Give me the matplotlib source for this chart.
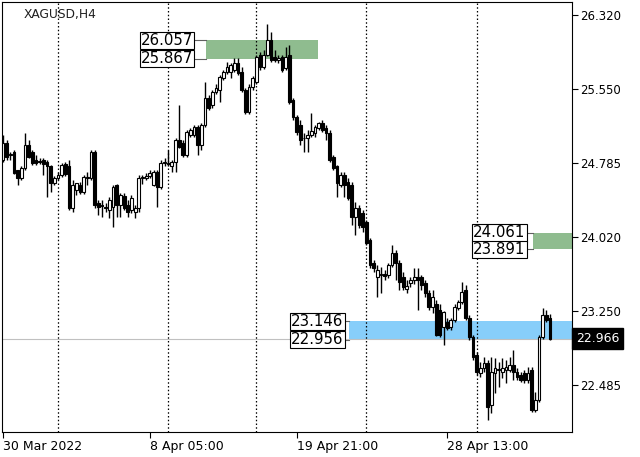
import matplotlib
matplotlib.use('Agg')
import matplotlib.pyplot as plt
from matplotlib.patches import Rectangle
import numpy as np

# XAGUSD H4 candles (prices)
opens = [24.82, 24.99, 24.87, 24.90, 24.71, 24.63, 24.73, 24.97, 24.90, 24.82,
         24.81, 24.82, 24.80, 24.75, 24.58, 24.63, 24.66, 24.78, 24.76, 24.32,
         24.51, 24.56, 24.49, 24.63, 24.63, 24.90, 24.37, 24.35, 24.33, 24.30,
         24.33, 24.56, 24.35, 24.44, 24.35, 24.30, 24.28, 24.32, 24.63, 24.63,
         24.65, 24.56, 24.69, 24.54, 24.79, 24.79, 24.75, 24.80, 25.02, 24.99,
         24.87, 25.08, 25.08, 25.16, 24.97, 25.18, 25.46, 25.39, 25.52, 25.54,
         25.67, 25.73, 25.73, 25.75, 25.82, 25.73, 25.54, 25.31, 25.57, 25.63,
         25.91, 25.78, 25.91, 26.06, 25.88, 25.85, 25.88, 25.77, 25.91, 25.44,
         25.26, 25.18, 25.05, 25.04, 25.08, 25.10, 25.15, 25.20, 25.15, 25.10,
         24.85, 24.75, 24.56, 24.66, 24.59, 24.56, 24.23, 24.32, 24.27, 24.17,
         23.99, 23.75, 23.61, 23.63, 23.64, 23.63, 23.73, 23.85, 23.75, 23.61,
         23.48, 23.54, 23.57, 23.60, 23.60, 23.54, 23.44, 23.29, 23.32, 23.26,
         23.09, 23.14, 23.09, 23.16, 23.28, 23.35, 23.47, 23.18, 22.98, 22.80,
         22.61, 22.66, 22.71, 22.28, 22.61, 22.64, 22.62, 22.64, 22.64, 22.69,
         22.62, 22.59, 22.61, 22.54, 22.64, 22.23, 22.33, 22.98, 23.21, 23.18]
highs = [25.08, 25.02, 24.90, 24.92, 24.71, 24.76, 25.10, 25.02, 24.92, 24.87,
         24.84, 24.84, 24.82, 24.77, 24.65, 24.69, 24.79, 24.80, 24.82, 24.61,
         24.58, 24.59, 24.66, 24.69, 24.92, 24.92, 24.40, 24.40, 24.37, 24.43,
         24.56, 24.57, 24.48, 24.48, 24.40, 24.45, 24.35, 24.66, 24.66, 24.68,
         24.71, 24.71, 24.71, 24.82, 24.84, 24.92, 24.82, 25.05, 25.39, 25.02,
         25.13, 25.15, 25.18, 25.18, 25.20, 25.63, 25.49, 25.54, 25.60, 25.70,
         25.75, 25.83, 25.82, 25.87, 25.87, 25.78, 25.56, 25.60, 25.69, 25.91,
         25.94, 25.96, 26.23, 26.14, 25.96, 25.91, 25.91, 25.99, 26.01, 25.46,
         25.28, 25.23, 25.10, 25.13, 25.30, 25.18, 25.21, 25.23, 25.18, 25.13,
         24.87, 24.77, 24.69, 24.69, 24.63, 24.59, 24.38, 24.35, 24.30, 24.20,
         24.01, 23.78, 23.73, 23.71, 23.68, 23.75, 23.94, 23.88, 23.78, 23.66,
         23.57, 23.60, 23.70, 23.70, 23.63, 23.57, 23.47, 23.47, 23.37, 23.32,
         23.25, 23.18, 23.18, 23.32, 23.37, 23.55, 23.52, 23.21, 23.00, 22.83,
         22.72, 22.78, 22.75, 22.78, 22.77, 22.72, 22.77, 22.75, 22.78, 22.85,
         22.66, 22.62, 22.64, 22.67, 22.67, 22.41, 23.00, 23.28, 23.26, 23.22]
lows = [24.80, 24.82, 24.82, 24.67, 24.56, 24.61, 24.71, 24.84, 24.77, 24.77,
        24.78, 24.66, 24.43, 24.49, 24.56, 24.61, 24.64, 24.65, 24.30, 24.28,
        24.45, 24.46, 24.46, 24.56, 24.61, 24.32, 24.25, 24.23, 24.28, 24.22,
        24.12, 24.23, 24.23, 24.30, 24.23, 24.27, 24.22, 24.28, 24.57, 24.61,
        24.63, 24.55, 24.33, 24.52, 24.75, 24.75, 24.69, 24.69, 24.94, 24.85,
        24.85, 25.06, 25.06, 24.87, 24.92, 25.16, 25.34, 25.36, 25.50, 25.42,
        25.65, 25.71, 25.67, 25.73, 25.70, 25.52, 25.29, 25.29, 25.54, 25.60,
        25.75, 25.76, 25.89, 25.83, 25.83, 25.82, 25.73, 25.75, 25.40, 25.23,
        25.08, 24.97, 24.90, 24.90, 25.06, 25.06, 25.13, 25.11, 25.02, 24.80,
        24.71, 24.43, 24.54, 24.43, 24.40, 24.14, 24.04, 24.11, 24.07, 23.94,
        23.70, 23.66, 23.40, 23.44, 23.57, 23.59, 23.71, 23.57, 23.47, 23.47,
        23.44, 23.50, 23.53, 23.26, 23.47, 23.40, 23.26, 23.23, 22.99, 22.98,
        22.90, 23.06, 23.06, 23.14, 23.26, 23.33, 23.16, 22.95, 22.75, 22.59,
        22.57, 22.62, 22.12, 22.20, 22.40, 22.47, 22.56, 22.51, 22.62, 22.54,
        22.54, 22.52, 22.51, 22.51, 22.21, 22.21, 22.31, 22.96, 23.14, 22.95]
closes = [24.99, 24.85, 24.88, 24.68, 24.63, 24.73, 24.97, 24.85, 24.79, 24.79,
          24.80, 24.78, 24.75, 24.58, 24.63, 24.66, 24.77, 24.67, 24.32, 24.56,
          24.58, 24.49, 24.64, 24.64, 24.90, 24.35, 24.33, 24.34, 24.32, 24.40,
          24.54, 24.35, 24.45, 24.32, 24.28, 24.42, 24.32, 24.63, 24.64, 24.65,
          24.68, 24.69, 24.54, 24.79, 24.80, 24.78, 24.80, 25.02, 24.95, 24.87,
          25.11, 25.13, 25.16, 24.97, 25.18, 25.46, 25.36, 25.52, 25.56, 25.68,
          25.73, 25.78, 25.80, 25.82, 25.72, 25.54, 25.31, 25.57, 25.67, 25.88,
          25.78, 25.91, 26.06, 25.85, 25.85, 25.87, 25.75, 25.88, 25.42, 25.26,
          25.11, 25.02, 25.04, 25.08, 25.12, 25.16, 25.20, 25.13, 25.10, 24.82,
          24.73, 24.58, 24.66, 24.56, 24.42, 24.23, 24.32, 24.14, 24.12, 23.96,
          23.73, 23.70, 23.68, 23.64, 23.62, 23.73, 23.85, 23.75, 23.55, 23.50,
          23.51, 23.57, 23.61, 23.57, 23.52, 23.44, 23.29, 23.40, 23.00, 23.00,
          23.24, 23.08, 23.16, 23.29, 23.35, 23.45, 23.18, 22.98, 22.78, 22.62,
          22.66, 22.71, 22.26, 22.62, 22.66, 22.65, 22.66, 22.67, 22.69, 22.62,
          22.57, 22.54, 22.54, 22.61, 22.23, 22.33, 22.98, 23.21, 23.16, 22.966]

# axis labels
price_ticks = [26.320, 25.550, 24.785, 24.020, 23.250, 22.485]
time_tick_bars = [0, 40, 80, 121]
time_tick_labels = ['30 Mar 2022', '8 Apr 05:00', '19 Apr 21:00', '28 Apr 13:00']
week_sep_bars = [15, 45, 69, 99, 129]   # dotted grid lines
last_price = 22.966

# supply / demand zones
zone_top = [26.057, 24.061, 23.146]
zone_bottom = [25.867, 23.891, 22.956]
zone_from = [55.2, 144.4, 94.3]
zone_to = [85.8, 160, 160]
zone_colors = ['#8fbc8f', '#8fbc8f', '#87cefa']
label_at = [51.8, 142.4, 92.8]

fig = plt.figure(figsize=(6.4, 4.57), dpi=100)
ax = fig.add_axes([2/640, 25/457, 570/640, 430/457])

o = np.array(opens); h = np.array(highs); l = np.array(lows); c = np.array(closes)
x = np.arange(len(c))
up = c >= o

# zones under the candles
for lo, hi, x0, x1, col, lx in zip(zone_bottom, zone_top, zone_from, zone_to, zone_colors, label_at):
    ax.add_patch(Rectangle((x0, lo), x1 - x0, hi - lo, facecolor=col, edgecolor='none', zorder=1))
    for p in (hi, lo):
        ax.plot([lx + 0.3, x0], [p, p], color='#606060', lw=0.8, zorder=1)
        ax.text(lx, p, '%.3f' % p, ha='right', va='center', fontsize=10.8, color='black', zorder=6,
                bbox=dict(boxstyle='square,pad=0.08', facecolor='white', edgecolor='black', lw=0.8))

for b in week_sep_bars:
    ax.axvline(b, color='black', ls=(0, (1.2, 1.8)), lw=0.9, zorder=1.2)

ax.axhline(last_price, color='#c0c0c0', lw=0.8, zorder=1.1)

# candles
ax.vlines(x, l, h, color='black', lw=1.0, zorder=2)
w = 0.75
ax.bar(x[up], np.maximum(c[up] - o[up], 0.004), bottom=o[up], width=w,
       color='white', edgecolor='black', linewidth=0.8, zorder=3)
ax.bar(x[~up], np.maximum(o[~up] - c[~up], 0.004), bottom=c[~up], width=w,
       color='black', edgecolor='black', linewidth=0.8, zorder=3)

ax.set_xlim(-0.27, 155.0)
ax.set_ylim(21.999, 26.454)

ax.yaxis.tick_right()
ax.set_yticks(price_ticks)
ax.set_yticklabels(['%.3f' % t for t in price_ticks])
ax.tick_params(axis='y', length=4, width=0.8, pad=2, labelsize=8.5, colors='black')
ax.set_xticks(time_tick_bars)
ax.set_xticklabels(time_tick_labels)
for t in ax.get_xticklabels():
    t.set_ha('left')
ax.tick_params(axis='x', length=4, width=0.8, pad=2, labelsize=9)
for s in ax.spines.values():
    s.set_linewidth(0.8)

ax.text(22/570, 0.972, 'XAGUSD,H4', transform=ax.transAxes, fontsize=8.8,
        va='center', ha='left', color='#202020')
ax.text(1.0 + 4/570, last_price, '22.966', transform=ax.get_yaxis_transform(),
        ha='left', va='center', fontsize=9, color='white', clip_on=False,
        bbox=dict(boxstyle='square,pad=0.3', facecolor='black', edgecolor='black'))

fig.savefig('out.png', dpi=100)
